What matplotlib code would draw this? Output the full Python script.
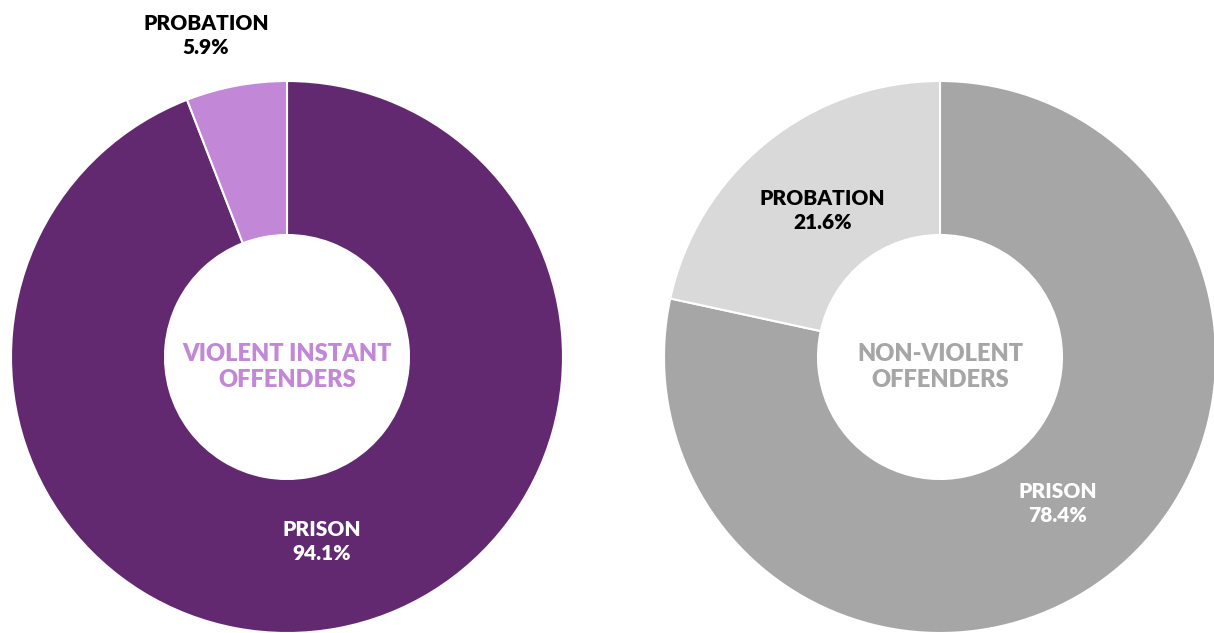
"""
Sentencing outcome donuts: violent vs non-violent offenders
"""

import numpy as np
import matplotlib

matplotlib.use("Agg")

import matplotlib.pyplot as plt


CATEGORIES = ["PRISON", "PROBATION"]
VIOLENT_SHARE = [94.1, 5.9]
NONVIOLENT_SHARE = [78.4, 21.6]

VIOLENT_COLORS = ["#622870", "#c287d6"]
NONVIOLENT_COLORS = ["#a6a6a6", "#d9d9d9"]

plt.rcParams["font.family"] = ["Lato", "DejaVu Sans"]


def draw_donut(ax, center, values, colors, title, title_color,
               label_pos, label_colors):
    radius = 276
    wedges, _ = ax.pie(
        values,
        colors=colors,
        center=center,
        radius=radius,
        startangle=90,
        counterclock=False,
        wedgeprops={"width": 154, "edgecolor": "white", "linewidth": 1.5},
        frame=True,
    )

    for wedge, name, value, (dist, nudge), color in zip(
        wedges, CATEGORIES, values, label_pos, label_colors
    ):
        mid = np.deg2rad((wedge.theta1 + wedge.theta2) / 2 + nudge)
        x = center[0] + dist * radius * np.cos(mid)
        y = center[1] + dist * radius * np.sin(mid)
        ax.text(x, y, f"{name}\n{value:.1f}%", ha="center", va="center",
                fontsize=15, fontweight=800, color=color,
                linespacing=1.3)

    ax.text(center[0], center[1] - 10, title, ha="center", va="center",
            fontsize=17, fontweight=800, color=title_color,
            linespacing=1.25)


fig = plt.figure(figsize=(12.14, 6.33), dpi=100)
ax = fig.add_axes([0, 0, 1, 1])

draw_donut(ax, (287, 276), VIOLENT_SHARE, VIOLENT_COLORS,
           "VIOLENT INSTANT\nOFFENDERS", "#c287d6",
           [(0.68, 0), (1.2, 3.5)], ["white", "black"])
draw_donut(ax, (940, 276), NONVIOLENT_SHARE, NONVIOLENT_COLORS,
           "NON-VIOLENT\nOFFENDERS", "#a6a6a6",
           [(0.68, 0), (0.68, 0)], ["white", "black"])

ax.set_xlim(0, 1214)
ax.set_ylim(0, 633)
ax.set_aspect("equal")
ax.axis("off")

fig.savefig("out.png", dpi=100, facecolor="white")
